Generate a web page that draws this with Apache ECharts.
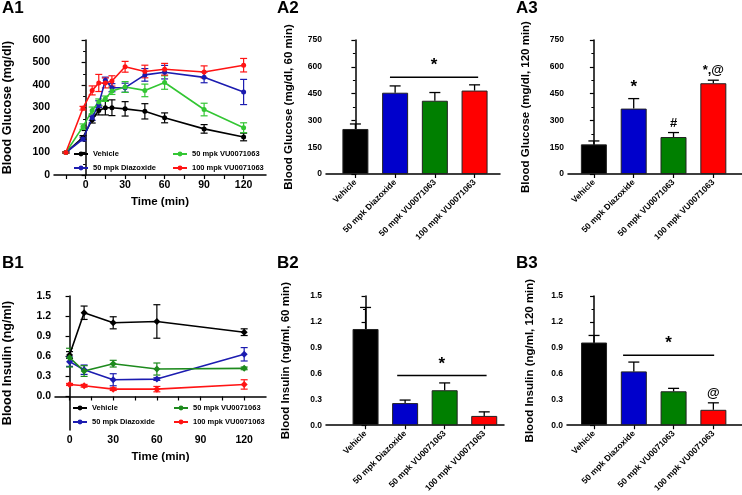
<!DOCTYPE html>
<html>
<head>
<meta charset="utf-8">
<script src="https://cdn.jsdelivr.net/npm/echarts@6/dist/echarts.min.js"></script>
<style>
    html, body { margin: 0; padding: 0; background: #fff; }
    #chart { width: 742px; height: 495px; }
</style>
</head>
<body>
<div id="chart"></div>
<script>
// groups
const groups = ['Vehicle', '50 mpk Diazoxide', '50 mpk VU0071063', '100 mpk VU0071063'];

// A1 blood glucose time course
const gluTimes = [-15, -2, 5, 10, 15, 20, 30, 45, 60, 90, 120];
const gluVehicle = [100, 167, 246, 287, 299, 299, 294, 283, 254, 205, 169];
const gluVehicleErr = [3, 8, 15, 20, 32, 35, 32, 34, 22, 19, 17];
const gluDiaz = [100, 160, 255, 315, 421, 388, 388, 445, 457, 434, 369];
const gluDiazErr = [3, 8, 12, 15, 14, 18, 20, 28, 30, 24, 56];
const gluVU50 = [100, 215, 287, 324, 339, 373, 391, 376, 411, 291, 210];
const gluVU50Err = [3, 12, 15, 14, 12, 15, 24, 28, 30, 28, 22];
const gluVU100 = [100, 297, 376, 409, 409, 418, 481, 460, 470, 458, 488];
const gluVU100Err = [3, 8, 20, 38, 22, 23, 24, 28, 26, 27, 30];

// B1 blood insulin time course
const insTimes = [0, 10, 30, 60, 120];
const insVehicle = [0.62, 1.25, 1.10, 1.12, 0.96];
const insVehicleErr = [0.05, 0.1, 0.09, 0.25, 0.05];
const insDiaz = [0.52, 0.40, 0.25, 0.26, 0.63];
const insDiazErr = [0.07, 0.07, 0.09, 0.02, 0.1];
const insVU50 = [0.58, 0.38, 0.49, 0.41, 0.42];
const insVU50Err = [0.14, 0.08, 0.05, 0.09, 0.02];
const insVU100 = [0.18, 0.16, 0.11, 0.11, 0.18];
const insVU100Err = [0.015, 0.02, 0.02, 0.04, 0.07];

// bar panels
const glu60 = [252, 455, 410, 467];
const glu60Err = [28, 38, 46, 32];
const glu120 = [166, 366, 207, 508];
const glu120Err = [19, 56, 25, 17];
const glu120Marks = ['', '*', '#', '*,@'];
const ins60 = [1.117, 0.257, 0.406, 0.108];
const ins60Err = [0.25, 0.035, 0.085, 0.047];
const ins120 = [0.96, 0.625, 0.394, 0.179];
const ins120Err = [0.082, 0.108, 0.034, 0.081];
const ins120Marks = ['', '', '', '@'];

// significance brackets: [from, to, level]
const glu60Bracket = [0.87, 3.09, 542];
const ins60Bracket = [0.8, 3.06, 0.577];
const ins120Bracket = [0.73, 3.02, 0.812];

// tick labels
const timeLabels = [0, 30, 60, 90, 120];
const gluTimeTicks = [-15, 0, 15, 30, 45, 60, 75, 90, 105, 120];
const insTimeTicks = [0, 15, 30, 45, 60, 75, 90, 105, 120];
const insLabels = [0, 0.3, 0.6, 0.9, 1.2, 1.5];

const barColors = ['#000000', '#0000cc', '#007f00', '#ff0000'];
const lineColorsA = ['#000000', '#1c1cb0', '#33c633', '#ff1414'];
const lineColorsB = ['#000000', '#1c1cb0', '#1d8a1d', '#ff1414'];

const FONT = 'Liberation Sans';
const axisLine = { lineStyle: { color: '#000', width: 1.5 } };
const axisTick = { length: 4, lineStyle: { color: '#000', width: 1.2 } };

function pairs(xs, ys) {
    return xs.map((x, i) => [x, ys[i]]);
}

function lineSeries(name, xs, ys, color, idx, symbol) {
    return {
        name: name,
        type: 'line',
        xAxisIndex: idx,
        yAxisIndex: idx,
        data: pairs(xs, ys),
        symbol: symbol,
        symbolSize: symbol === 'diamond' ? 7 : 5,
        color: color,
        lineStyle: { width: 1.6, color: color },
        itemStyle: { color: color },
        z: 3
    };
}

function errSeries(xs, ys, es, color, idx) {
    return {
        type: 'custom',
        xAxisIndex: idx,
        yAxisIndex: idx,
        data: xs.map((x, i) => [x, ys[i], es[i]]),
        z: 2,
        silent: true,
        renderItem: function (params, api) {
            const x = api.value(0), y = api.value(1), e = api.value(2);
            const top = api.coord([x, y + e]);
            const bot = api.coord([x, y - e]);
            const w = 3.5;
            const st = { stroke: color, lineWidth: 1.2 };
            return {
                type: 'group',
                children: [
                    { type: 'line', shape: { x1: top[0], y1: top[1], x2: bot[0], y2: bot[1] }, style: st },
                    { type: 'line', shape: { x1: top[0] - w, y1: top[1], x2: top[0] + w, y2: top[1] }, style: st },
                    { type: 'line', shape: { x1: bot[0] - w, y1: bot[1], x2: bot[0] + w, y2: bot[1] }, style: st }
                ]
            };
        }
    };
}

function barSeries(vals, idx) {
    return {
        type: 'bar',
        xAxisIndex: idx,
        yAxisIndex: idx,
        barWidth: 26,
        data: vals.map((v, i) => ({
            value: [i, v],
            itemStyle: { color: barColors[i], borderColor: '#222', borderWidth: 1 }
        })),
        z: 2
    };
}

function barErrSeries(vals, errs, marks, idx) {
    return {
        type: 'custom',
        xAxisIndex: idx,
        yAxisIndex: idx,
        silent: true,
        data: vals.map((v, i) => [i, v, errs[i]]),
        z: 4,
        renderItem: function (params, api) {
            const i = api.value(0), v = api.value(1), e = api.value(2);
            const base = api.coord([i, v]);
            const top = api.coord([i, v + e]);
            const w = 5.5;
            const st = { stroke: '#000', lineWidth: 1.3 };
            const children = [
                { type: 'line', shape: { x1: base[0], y1: base[1], x2: top[0], y2: top[1] }, style: st },
                { type: 'line', shape: { x1: top[0] - w, y1: top[1], x2: top[0] + w, y2: top[1] }, style: st }
            ];
            const m = marks ? marks[params.dataIndex] : '';
            if (m) {
                children.push({
                    type: 'text',
                    style: {
                        text: m, x: top[0], y: top[1] - 3,
                        align: 'center', verticalAlign: 'bottom',
                        font: (m === '*' ? 'bold 17px ' : 'bold 13px ') + FONT,
                        fill: '#000'
                    }
                });
            }
            return { type: 'group', children: children };
        }
    };
}

function bracketSeries(br, idx) {
    return {
        type: 'custom',
        xAxisIndex: idx,
        yAxisIndex: idx,
        silent: true,
        data: [br],
        z: 5,
        renderItem: function (params, api) {
            const a = api.coord([api.value(0), api.value(2)]);
            const b = api.coord([api.value(1), api.value(2)]);
            return {
                type: 'group',
                children: [
                    { type: 'line', shape: { x1: a[0], y1: a[1], x2: b[0], y2: b[1] }, style: { stroke: '#000', lineWidth: 1.5 } },
                    {
                        type: 'text',
                        style: {
                            text: '*', x: (a[0] + b[0]) / 2, y: a[1] - 3,
                            align: 'center', verticalAlign: 'bottom',
                            font: 'bold 17px ' + FONT, fill: '#000'
                        }
                    }
                ]
            };
        }
    };
}

function timeAxis(idx, min, max, ticks) {
    return {
        type: 'value', gridIndex: idx, min: min, max: max,
        name: 'Time (min)', nameLocation: 'middle', nameGap: 21,
        nameTextStyle: { fontFamily: FONT, fontWeight: 'bold', fontSize: 11.5, color: '#000' },
        axisLine: axisLine,
        axisTick: Object.assign({ customValues: ticks }, axisTick),
        axisLabel: { customValues: timeLabels, fontFamily: FONT, fontWeight: 'bold', fontSize: 10.5, color: '#000', margin: 5 },
        splitLine: { show: false }
    };
}

function catAxis(idx, min, max) {
    return {
        type: 'value', gridIndex: idx, min: min, max: max,
        axisLine: axisLine,
        axisTick: Object.assign({ customValues: [0, 1, 2, 3] }, axisTick),
        axisLabel: {
            customValues: [0, 1, 2, 3],
            formatter: v => groups[v],
            rotate: 45, margin: 7,
            fontFamily: FONT, fontWeight: 'bold', fontSize: 8.5, color: '#000'
        },
        splitLine: { show: false }
    };
}

function valAxis(idx, name, gap, min, max, interval, fontSize, fmt) {
    return {
        type: 'value', gridIndex: idx, min: min, max: max, interval: interval,
        name: name, nameLocation: 'middle', nameGap: gap,
        nameTextStyle: { fontFamily: FONT, fontWeight: 'bold', fontSize: fontSize === 10.5 ? 12.5 : 11.5, color: '#000' },
        axisLine: Object.assign({ show: true }, axisLine),
        axisTick: axisTick,
        minorTick: { show: true, splitNumber: 2, length: 2.5, lineStyle: { color: '#000', width: 1 } },
        axisLabel: { fontFamily: FONT, fontWeight: 'bold', fontSize: fontSize, color: '#000', margin: 4, formatter: fmt },
        splitLine: { show: false }
    };
}

const legendText = { fontFamily: FONT, fontWeight: 'bold', fontSize: 7.5, color: '#000', lineHeight: 10 };
function legend(left, top, names, overrides) {
    return {
        orient: 'vertical', left: left, top: top, padding: 0,
        itemWidth: 14, itemHeight: 6, itemGap: 4,
        textStyle: legendText,
        selectedMode: false,
        data: names.map(n => Object.assign({ name: n }, overrides ? overrides[n] : {}))
    };
}

const titleStyle = { fontFamily: FONT, fontWeight: 'bold', fontSize: 17, color: '#000' };
const titles = [['A1', 2, 0], ['A2', 277, 0], ['A3', 516, 0], ['B1', 2, 255], ['B2', 277, 255], ['B3', 516, 255]];

const option = {
    animation: false,
    backgroundColor: '#fff',
    title: titles.map(t => ({ text: t[0], left: t[1], top: t[2], padding: 0, textStyle: titleStyle })),
    legend: [
        legend(73, 149, [groups[0], groups[1]]),
        legend(172, 149, [groups[2], groups[3]]),
        legend(72, 403, [groups[0], groups[1]]),
        legend(173, 403, [groups[2], groups[3]], {
            '50 mpk VU0071063': { itemStyle: { color: lineColorsB[2] }, lineStyle: { color: lineColorsB[2] } }
        })
    ],
    grid: [
        { left: 54, top: 40, width: 212, height: 135 },
        { left: 326, top: 40, width: 174, height: 134 },
        { left: 568, top: 40, width: 174, height: 134 },
        { left: 54, top: 296, width: 212, height: 134 },
        { left: 326, top: 296, width: 178, height: 134 },
        { left: 567, top: 296, width: 175, height: 134 }
    ],
    xAxis: [
        timeAxis(0, -24, 137, gluTimeTicks),
        catAxis(1, -0.74, 3.64),
        catAxis(2, -0.65, 3.72),
        timeAxis(3, -10, 135, insTimeTicks),
        catAxis(4, -1.0, 3.5),
        catAxis(5, -0.68, 3.72)
    ],
    yAxis: [
        valAxis(0, 'Blood Glucose (mg/dl)', 40, 0, 600, 100, 10.5),
        valAxis(1, 'Blood Glucose (mg/dl, 60 min)', 31, 0, 750, 150, 8.5),
        valAxis(2, 'Blood Glucose (mg/dl, 120 min)', 36, 0, 750, 150, 8.5),
        {
            type: 'value', gridIndex: 3, min: -0.5, max: 1.5,
            name: 'Blood Insulin (ng/ml)', nameLocation: 'middle', nameGap: 41,
            nameTextStyle: { fontFamily: FONT, fontWeight: 'bold', fontSize: 12.5, color: '#000' },
            axisLine: Object.assign({ show: true }, axisLine),
            axisTick: Object.assign({ customValues: insLabels }, axisTick),
            axisLabel: { customValues: insLabels, formatter: v => v.toFixed(1), fontFamily: FONT, fontWeight: 'bold', fontSize: 10.5, color: '#000', margin: 4 },
            splitLine: { show: false }
        },
        valAxis(4, 'Blood Insulin (ng/ml, 60 min)', 34, 0, 1.5, 0.3, 8.5, v => v.toFixed(1)),
        valAxis(5, 'Blood Insulin (ng/ml, 120 min)', 31, 0, 1.5, 0.3, 8.5, v => v.toFixed(1))
    ],
    series: [
        errSeries(gluTimes, gluVehicle, gluVehicleErr, lineColorsA[0], 0),
        errSeries(gluTimes, gluDiaz, gluDiazErr, lineColorsA[1], 0),
        errSeries(gluTimes, gluVU50, gluVU50Err, lineColorsA[2], 0),
        errSeries(gluTimes, gluVU100, gluVU100Err, lineColorsA[3], 0),
        lineSeries(groups[0], gluTimes, gluVehicle, lineColorsA[0], 0, 'circle'),
        lineSeries(groups[1], gluTimes, gluDiaz, lineColorsA[1], 0, 'circle'),
        lineSeries(groups[2], gluTimes, gluVU50, lineColorsA[2], 0, 'circle'),
        lineSeries(groups[3], gluTimes, gluVU100, lineColorsA[3], 0, 'circle'),

        errSeries(insTimes, insVehicle, insVehicleErr, lineColorsB[0], 3),
        errSeries(insTimes, insDiaz, insDiazErr, lineColorsB[1], 3),
        errSeries(insTimes, insVU50, insVU50Err, lineColorsB[2], 3),
        errSeries(insTimes, insVU100, insVU100Err, lineColorsB[3], 3),
        lineSeries(groups[0], insTimes, insVehicle, lineColorsB[0], 3, 'diamond'),
        lineSeries(groups[1], insTimes, insDiaz, lineColorsB[1], 3, 'diamond'),
        lineSeries(groups[2], insTimes, insVU50, lineColorsB[2], 3, 'diamond'),
        lineSeries(groups[3], insTimes, insVU100, lineColorsB[3], 3, 'diamond'),

        barSeries(glu60, 1),
        barErrSeries(glu60, glu60Err, null, 1),
        bracketSeries(glu60Bracket, 1),

        barSeries(glu120, 2),
        barErrSeries(glu120, glu120Err, glu120Marks, 2),

        barSeries(ins60, 4),
        barErrSeries(ins60, ins60Err, null, 4),
        bracketSeries(ins60Bracket, 4),

        barSeries(ins120, 5),
        barErrSeries(ins120, ins120Err, ins120Marks, 5),
        bracketSeries(ins120Bracket, 5)
    ]
};

const chart = echarts.init(document.getElementById('chart'));
chart.setOption(option);
</script>
</body>
</html>
